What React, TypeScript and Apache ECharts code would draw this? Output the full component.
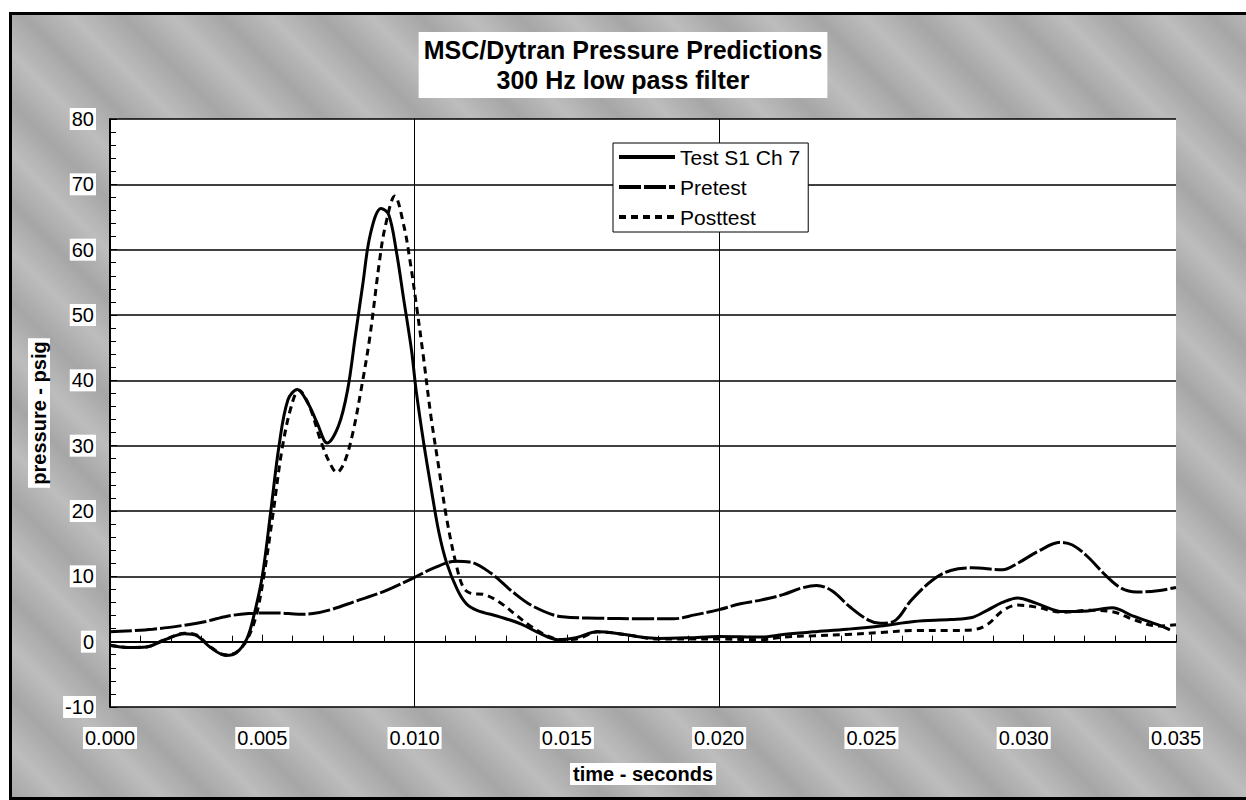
import React, { useEffect, useRef } from "react";
import * as echarts from "echarts";

const FONT = "'Liberation Sans', Arial, Helvetica, sans-serif";

const titleMain = "MSC/Dytran Pressure Predictions";
const titleSub = "300 Hz low pass filter";
const xAxisTitle = "time - seconds";
const yAxisTitle = "pressure - psig";
const seriesNames = ["Test S1 Ch 7", "Pretest", "Posttest"];
const gridLineTimes = [0.005, 0.01, 0.02];

// Test S1 Ch 7 (time in ms, pressure in psig)
const testTimeMs = [0, 0.6, 1.2, 1.8, 2.45, 2.85, 3.3, 3.8, 4.15, 4.5, 4.75, 5.0, 5.28, 5.55, 5.84, 6.15, 6.5, 6.8, 7.13, 7.5, 7.8, 8.05, 8.3, 8.55, 8.9, 9.15, 9.4, 9.65, 9.9, 10.05, 10.3, 10.55, 10.8, 11.05, 11.4, 11.7, 12.05, 12.8, 13.5, 14.1, 14.7, 15.3, 16.0, 16.6, 17.3, 18.0, 19.0, 20.0, 21.4, 22.1, 23.1, 24.2, 25.3, 26.4, 27.6, 28.3, 28.8, 29.3, 29.8, 30.4, 31.3, 32.1, 32.9, 33.6, 34.4, 34.8];
const testValues = [-0.6, -0.9, -0.8, 0.3, 1.2, 0.9, -0.9, -2.1, -1.7, 0.5, 4.5, 10.0, 20.0, 30.0, 37.0, 38.6, 36.5, 33.5, 30.4, 33.0, 38.5, 46.6, 54.7, 62.4, 66.3, 65.4, 59.8, 52.2, 44.6, 38.5, 30.4, 23.3, 16.7, 12.1, 8.0, 5.8, 4.8, 3.8, 2.7, 1.3, 0.3, 0.6, 1.5, 1.3, 0.8, 0.5, 0.6, 0.8, 0.7, 1.1, 1.5, 1.9, 2.4, 3.1, 3.4, 3.7, 4.8, 6.0, 6.7, 5.9, 4.6, 4.7, 5.2, 3.9, 2.6, 1.8];

// Pretest prediction
const preTimeMs = [0, 1.4, 2.56, 3.15, 3.85, 4.55, 5.5, 6.2, 6.66, 7.25, 8.07, 9.0, 9.94, 10.64, 11.35, 11.8, 12.5, 13.2, 13.9, 14.86, 16.0, 17.4, 18.5, 19.2, 20.0, 20.7, 21.4, 22.1, 22.7, 23.2, 23.7, 24.3, 24.9, 25.3, 25.8, 26.3, 27.0, 27.6, 28.3, 29.3, 29.8, 30.5, 31.2, 31.6, 32.1, 32.7, 33.2, 33.7, 34.4, 35.0];
const preValues = [1.5, 1.9, 2.6, 3.1, 3.9, 4.3, 4.4, 4.2, 4.3, 4.9, 6.2, 7.7, 9.7, 11.3, 12.3, 12.2, 10.5, 7.7, 5.4, 3.8, 3.6, 3.5, 3.5, 4.1, 4.9, 5.8, 6.4, 7.2, 8.2, 8.6, 7.8, 5.3, 3.3, 2.8, 3.3, 6.3, 9.4, 10.9, 11.3, 11.0, 12.0, 13.9, 15.2, 14.8, 13.0, 10.1, 8.2, 7.6, 7.8, 8.3];

// Posttest prediction
const postTimeMs = [0, 0.6, 1.2, 1.8, 2.45, 2.85, 3.3, 3.8, 4.15, 4.5, 4.8, 5.05, 5.35, 5.65, 5.95, 6.2, 6.55, 6.9, 7.2, 7.45, 7.7, 7.97, 8.28, 8.53, 8.85, 9.03, 9.35, 9.66, 9.85, 10.04, 10.29, 10.54, 10.79, 11.04, 11.35, 11.6, 11.85, 12.3, 12.8, 13.3, 13.8, 14.4, 14.9, 15.4, 16.0, 16.6, 17.3, 18.0, 19.0, 20.0, 21.4, 22.1, 23.1, 24.2, 25.3, 26.4, 27.6, 28.3, 28.8, 29.3, 29.8, 30.4, 31.3, 32.1, 32.9, 33.6, 34.4, 35.0];
const postValues = [-0.5, -0.9, -0.8, 0.3, 1.3, 1.0, -0.8, -2.0, -1.6, 0.3, 4.0, 10.0, 19.5, 29.5, 36.0, 38.5, 36.0, 31.0, 27.5, 25.9, 27.5, 31.9, 39.5, 46.6, 58.3, 63.4, 68.2, 63.4, 58.3, 52.2, 43.6, 34.4, 26.8, 19.2, 12.1, 8.3, 7.4, 7.2, 6.0, 4.2, 2.4, 0.8, 0.3, 0.5, 1.5, 1.3, 0.8, 0.4, 0.4, 0.4, 0.3, 0.7, 0.9, 1.1, 1.4, 1.7, 1.7, 1.8, 2.6, 4.7, 5.6, 5.3, 4.5, 4.8, 4.6, 3.4, 2.4, 2.6];

const toPairs = (ms: number[], vals: number[]) => ms.map((t, i) => [t / 1000, vals[i]]);

export default function App() {
  const ref = useRef<HTMLDivElement>(null);

  useEffect(() => {
    if (!ref.current) return;
    const chart = echarts.init(ref.current, undefined, { renderer: "svg" });
    const labelBox = {
      fontSize: 20,
      fontFamily: FONT,
      color: "#000",
      backgroundColor: "#fff",
      padding: [1, 2],
    };
    chart.setOption({
      animation: false,
      backgroundColor: "transparent",
      title: {
        text: titleMain,
        subtext: titleSub,
        left: "center",
        top: 32,
        itemGap: 0,
        padding: [3, 5, 3, 5],
        backgroundColor: "#fff",
        textStyle: { fontSize: 25, fontWeight: "bold", fontFamily: FONT, color: "#000", lineHeight: 30 },
        subtextStyle: { fontSize: 25, fontWeight: "bold", fontFamily: FONT, color: "#000", lineHeight: 30 },
      },
      legend: {
        orient: "vertical",
        left: 613,
        top: 143,
        padding: [3, 8, 4, 4],
        itemGap: 8,
        itemWidth: 56,
        itemHeight: 14,
        backgroundColor: "#fff",
        borderColor: "#000",
        borderWidth: 1,
        borderRadius: 0,
        data: seriesNames,
        itemStyle: { opacity: 0 },
        lineStyle: { width: 4 },
        textStyle: { fontSize: 21, fontFamily: FONT, color: "#000", lineHeight: 22 },
      },
      grid: {
        left: 110,
        top: 119,
        width: 1066,
        height: 588,
        show: true,
        backgroundColor: "#fff",
        borderWidth: 0,
      },
      xAxis: {
        type: "value",
        min: 0,
        max: 0.035,
        interval: 0.005,
        name: xAxisTitle,
        nameLocation: "middle",
        nameGap: 56,
        nameTextStyle: { ...labelBox, fontWeight: "bold", padding: [1, 3] },
        axisLine: { show: true, lineStyle: { color: "#000", width: 2 } },
        axisTick: { show: true, inside: true, length: 7, lineStyle: { color: "#000", width: 1 } },
        minorTick: { show: true, splitNumber: 5, length: 6, lineStyle: { color: "#000", width: 1 } },
        splitLine: { show: false },
        axisLabel: { ...labelBox, margin: 20, formatter: (v: number) => v.toFixed(3) },
      },
      yAxis: {
        type: "value",
        min: -10,
        max: 80,
        interval: 10,
        name: yAxisTitle,
        nameLocation: "middle",
        nameGap: 60,
        nameRotate: 90,
        nameTextStyle: { ...labelBox, fontWeight: "bold", padding: [1, 3] },
        axisLine: { show: true, lineStyle: { color: "#000", width: 2 } },
        axisTick: { show: true, inside: true, length: 7, lineStyle: { color: "#000", width: 1 } },
        minorTick: { show: true, splitNumber: 5, length: 6, lineStyle: { color: "#000", width: 1 } },
        splitLine: { show: true, lineStyle: { color: "#000", width: 1.5 } },
        axisLabel: { ...labelBox, margin: 14 },
      },
      series: [
        {
          name: seriesNames[0],
          type: "line",
          data: toPairs(testTimeMs, testValues),
          smooth: 0.35,
          symbol: "none",
          lineStyle: { color: "#000", width: 3, type: "solid" },
          itemStyle: { color: "#000" },
          markLine: {
            silent: true,
            symbol: ["none", "none"],
            label: { show: false },
            lineStyle: { color: "#000", width: 1, type: "solid" },
            data: gridLineTimes.map((t) => ({ xAxis: t })),
            z: 1,
          },
        },
        {
          name: seriesNames[1],
          type: "line",
          data: toPairs(preTimeMs, preValues),
          smooth: 0.35,
          symbol: "none",
          lineStyle: { color: "#000", width: 3, type: [22, 3] },
          itemStyle: { color: "#000" },
        },
        {
          name: seriesNames[2],
          type: "line",
          data: toPairs(postTimeMs, postValues),
          smooth: 0.35,
          symbol: "none",
          lineStyle: { color: "#000", width: 3, type: [7, 5] },
          itemStyle: { color: "#000" },
        },
      ],
    });
    return () => chart.dispose();
  }, []);

  return (
    <div style={{ position: "absolute", left: 0, top: 0, width: 1246, height: 800, background: "#fff", overflow: "hidden" }}>
      <div
        style={{
          position: "absolute",
          left: 9,
          top: 12,
          width: 1250,
          height: 782,
          border: "3px solid #000",
          background:
            "repeating-linear-gradient(45deg, #a6a6a6 0px, #bdbdbd 35px, #a6a6a6 70px)",
        }}
      />
      <div ref={ref} style={{ position: "absolute", left: 0, top: 0, width: 1246, height: 800 }} />
    </div>
  );
}
